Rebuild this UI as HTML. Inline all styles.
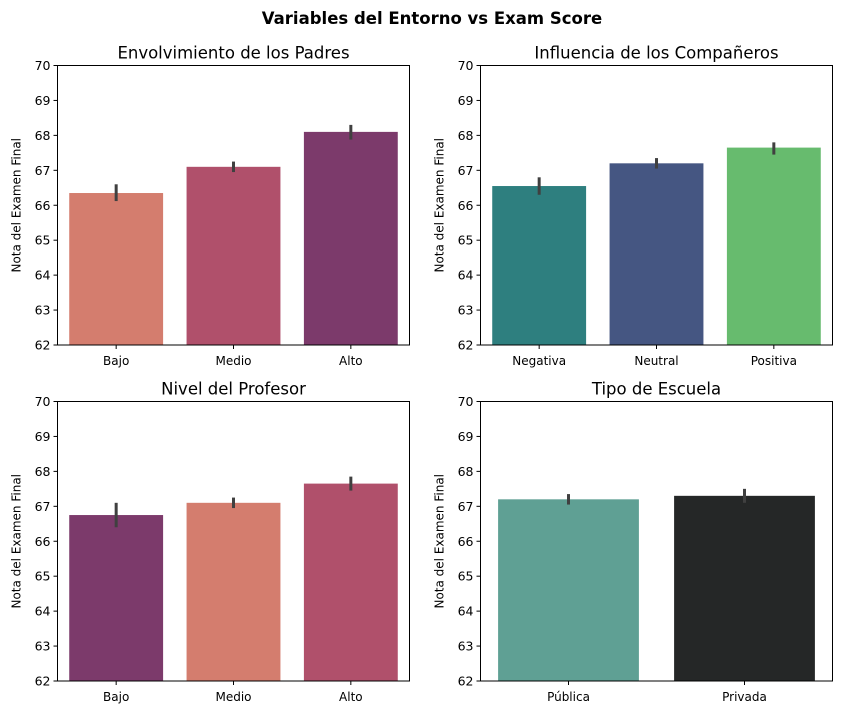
<!DOCTYPE html>
<html><head><meta charset="utf-8">
<style>
body{margin:0;background:#fff;font-family:"Liberation Sans","DejaVu Sans",sans-serif;}
svg text{font-family:"DejaVu Sans","Liberation Sans",sans-serif;}
</style></head>
<body>
<svg id="chart" width="842" height="715" xmlns="http://www.w3.org/2000/svg">
<text x="432" y="24" text-anchor="middle" font-size="16.5" font-weight="bold">Variables del Entorno vs Exam Score</text>
</svg>
<script>
const titles = ["Envolvimiento de los Padres","Influencia de los Compañeros","Nivel del Profesor","Tipo de Escuela"];
const categories = [["Bajo","Medio","Alto"],["Negativa","Neutral","Positiva"],["Bajo","Medio","Alto"],["Pública","Privada"]];
const means = [[66.35,67.1,68.1],[66.55,67.2,67.65],[66.75,67.1,67.65],[67.2,67.3]];
const errLow = [[66.12,66.95,67.88],[66.3,67.05,67.45],[66.4,66.95,67.45],[67.05,67.1]];
const errHigh = [[66.6,67.25,68.3],[66.8,67.35,67.8],[67.1,67.25,67.85],[67.35,67.5]];
const colors = [["#d47d6e","#b0506b","#7c3a6b"],["#2e7f7f","#455682","#67bb6e"],["#7c3a6b","#d47d6e","#b0506b"],["#5fa094","#252727"]];
const yTicks = [62,63,64,65,66,67,68,69,70];
const yMin = 62, yMax = 70;

const svg = document.getElementById('chart');
const NS = "http://www.w3.org/2000/svg";
function mk(tag, attrs, parent){const e=document.createElementNS(NS,tag);for(const k in attrs)e.setAttribute(k,attrs[k]);(parent||svg).appendChild(e);return e;}
const panels = [{x:57.5,y:65.5},{x:480.5,y:65.5},{x:57.5,y:401.5},{x:480.5,y:401.5}];
const W = 352, H = 279.5;
panels.forEach((p,i)=>{
  const g = mk('g',{});
  
  
  const ys = v => p.y + H - (v - yMin)/(yMax - yMin)*H;
  const n = categories[i].length;
  const step = W/n;
  const xc = j => p.x + step*(j+0.5);
  categories[i].forEach((c,j)=>{
    const bw = step*0.8;
    const r = mk('rect',{x:xc(j)-bw/2,y:ys(means[i][j]),width:bw,height:ys(yMin)-ys(means[i][j]),fill:colors[i][j]},g);
    
    
    const e = mk('line',{x1:xc(j),x2:xc(j),y1:ys(errLow[i][j]),y2:ys(errHigh[i][j]),stroke:"#404040","stroke-width":3},g);
    
    
    mk('line',{x1:xc(j),x2:xc(j),y1:p.y+H,y2:p.y+H+4,stroke:"#000"},g);
    const t = mk('text',{x:xc(j),y:p.y+H+20,"text-anchor":"middle","font-size":12},g);
    t.textContent = c;
    
    
  });
  yTicks.forEach(v=>{
    mk('line',{x1:p.x-4,x2:p.x,y1:ys(v),y2:ys(v),stroke:"#000"},g);
    const t = mk('text',{x:p.x-7,y:ys(v)+4.5,"text-anchor":"end","font-size":12.5},g);
    t.textContent = v;
    
    
  });
  const fr = mk('rect',{x:p.x,y:p.y,width:W,height:H,fill:"none",stroke:"#000","stroke-width":1},g);
  
  
  const tt = mk('text',{x:p.x+W/2,y:p.y-7,"text-anchor":"middle","font-size":16.5},g);
  tt.textContent = titles[i];
  
  
  const yl = mk('text',{x:0,y:0,"text-anchor":"middle","font-size":12,transform:`translate(${p.x-37},${p.y+H/2}) rotate(-90)`},g);
  yl.textContent = "Nota del Examen Final";
  
  
});
</script>
</body></html>
